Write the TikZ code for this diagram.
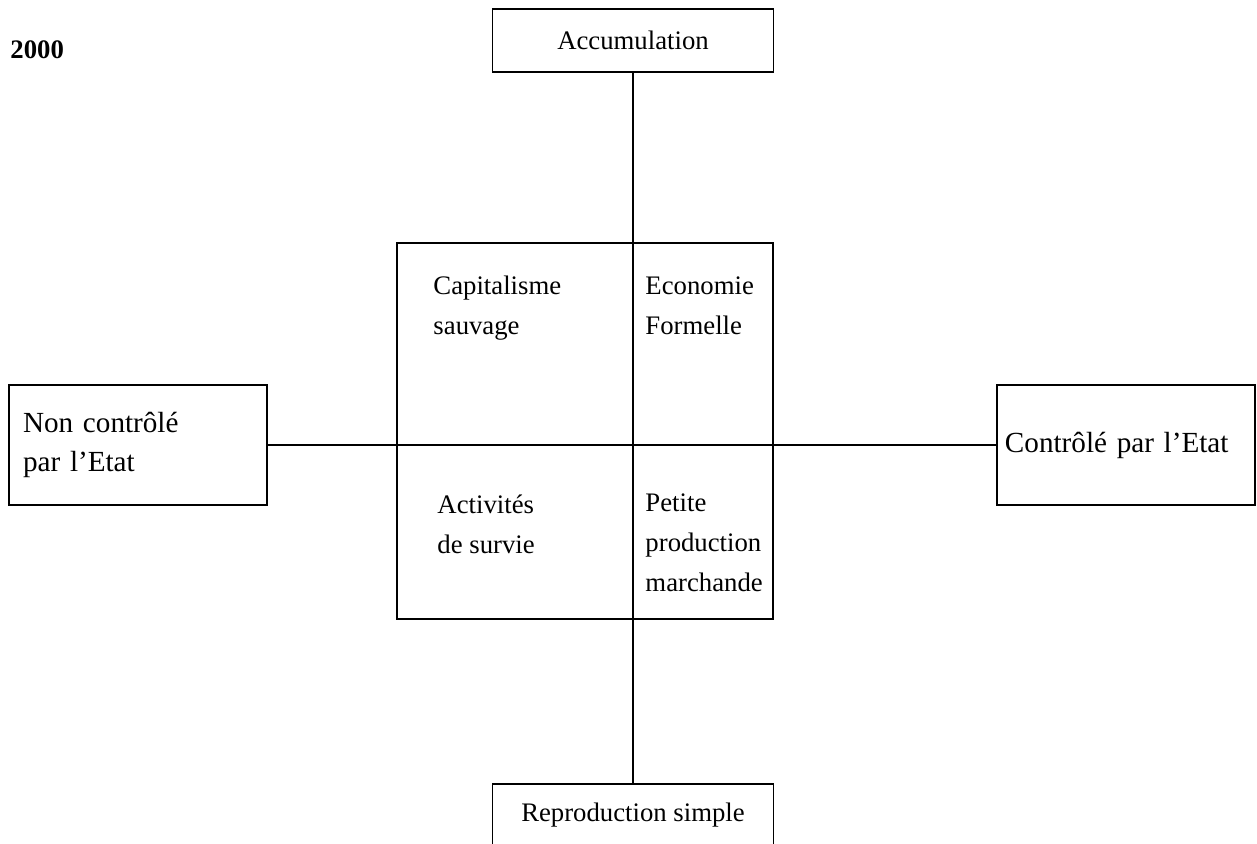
\documentclass[tikz,border=0pt]{standalone}
\usepackage{fontspec}
\setmainfont{Liberation Serif}
\usetikzlibrary{positioning}

\begin{document}
\begin{tikzpicture}[x=0.4115pt, y=-0.4115pt,
        axisbox/.style={rectangle, draw, line width=0.5pt, inner sep=0pt, minimum width=115.6pt, minimum height=25.9pt, font=\fontsize{11}{16.5}\selectfont},
        sidebox/.style={rectangle, draw, line width=0.5pt, inner ysep=0pt, minimum width=106.2pt, minimum height=49.4pt, align=left, font=\fontsize{12}{16}\selectfont},
        gridbox/.style={rectangle, draw, line width=0.5pt, minimum size=154.7pt},
        quadtext/.style={anchor=north west, inner sep=0pt, align=left, font=\fontsize{11}{16.5}\selectfont},
        axisline/.style={line width=0.5pt},
        ]
        \useasboundingbox (0,0) rectangle (1257,843);
        \clip (0,0) rectangle (1257,843);

        %Nodes
        \node[anchor=west, inner sep=0pt, font=\fontsize{11}{13}\selectfont\bfseries] (year) at (10,50) {2000};
        \node[gridbox]  (cadre)   at (585,431) {};
        \node[axisbox]  (acc)     at (633,40.5) {Accumulation};
        \node[axisbox]  (repro)   at (633,815.5) {Reproduction simple};
        \node[sidebox, text width=94.6pt, inner xsep=5.76pt]  (nonctrl) at (138,445) {Non contrôlé\\par l’Etat};
        \node[sidebox, text width=99.6pt, inner xsep=3.3pt]   (ctrl)    at (1126,445) {Contrôlé par l’Etat};

        \node[quadtext] (capital)  at (433,275) {Capitalisme\\sauvage};
        \node[quadtext] (formel)   at (645,276) {Economie\\Formelle};
        \node[quadtext] (survie)   at (437,494) {Activités\\de survie};
        \node[quadtext] (petite)   at (645,493) {Petite\\production\\marchande};

        %Lines
        \path[axisline] (acc.south)     edge (repro.north);
        \path[axisline] (nonctrl.east)  edge (ctrl.west);
    \end{tikzpicture}
\end{document}
